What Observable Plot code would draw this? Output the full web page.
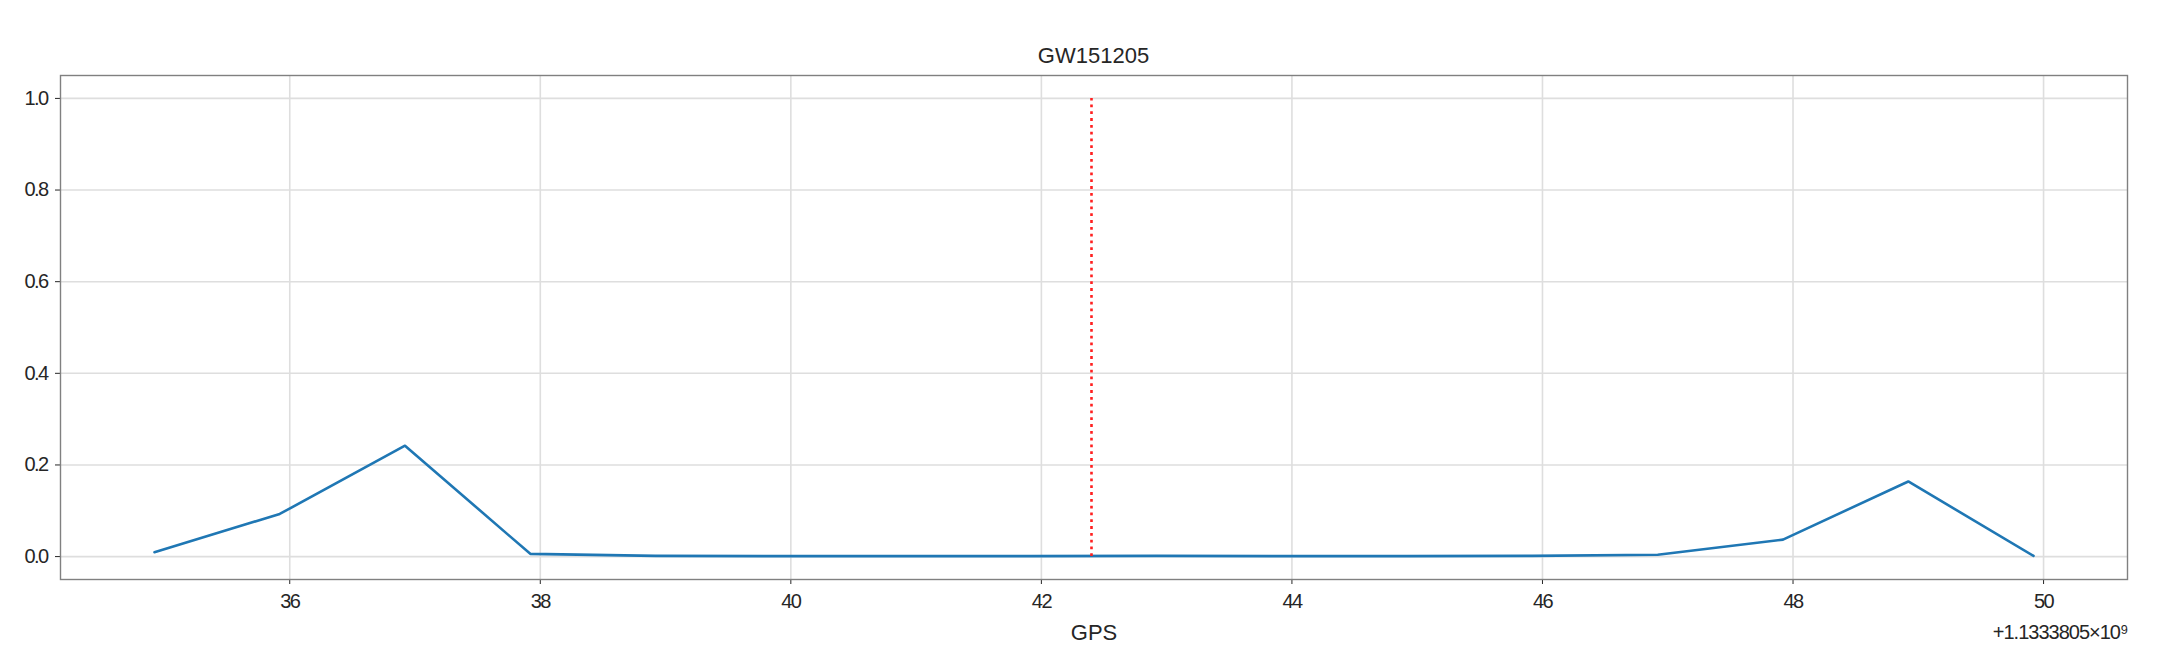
<!DOCTYPE html>
<html><head><meta charset="utf-8">
<script src="https://cdn.jsdelivr.net/npm/d3@7"></script>
<script src="https://cdn.jsdelivr.net/npm/@observablehq/plot@0.6"></script>
<style>
html,body{margin:0;padding:0;background:#fff;overflow:hidden}
#title{width:2166px;height:66px;box-sizing:border-box;padding:45px 39px 0 60px;line-height:22px;font-size:22px;font-family:"Liberation Sans",Arial,sans-serif;color:#262626;text-align:center}
#chart g[aria-label="x-axis tick label"] text,
#chart g[aria-label="y-axis tick label"] text{letter-spacing:-1.6px}
#chart g.offset text{letter-spacing:-1px}
</style></head><body>
<div id="title"></div>
<div id="chart"></div>
<script>
const title = "GW151205";
const xLabel = "GPS";
const offsetLabel = "+1.1333805×10⁹";
// GPS time minus 1133380500 s
const times = [34.92, 35.92, 36.92, 37.92, 38.92, 39.92, 40.92, 41.92, 42.92, 43.92, 44.92, 45.92, 46.92, 47.92, 48.92, 49.92];
const values = [0.0095, 0.093, 0.242, 0.006, 0.0015, 0.001, 0.001, 0.001, 0.0015, 0.001, 0.001, 0.0015, 0.004, 0.037, 0.164, 0.0015];
const eventTime = [42.40];
const xTicks = [36, 38, 40, 42, 44, 46, 48, 50];
const yTicks = [0.0, 0.2, 0.4, 0.6, 0.8, 1.0];

document.getElementById("title").textContent = title;

const data = times.map((t, i) => ({t, v: values[i]}));
const xMin = d3.min(times), xMax = d3.max(times);
const xPad = (xMax - xMin) * 0.05;
const yPad = (1 - 0) * 0.05;

const font = '"Liberation Sans", Arial, sans-serif';

const chart = Plot.plot({
  width: 2166,
  height: 592,
  marginTop: 9,
  marginBottom: 79,
  marginLeft: 60,
  marginRight: 39,
  style: {fontFamily: font, fontSize: "20px", color: "#262626", background: "white"},
  x: {domain: [xMin - xPad, xMax + xPad], label: null},
  y: {domain: [0 - yPad, 1 + yPad], label: null},
  marks: [
    Plot.gridX(xTicks, {stroke: "#dedede", strokeOpacity: 1, strokeWidth: 1.6}),
    Plot.gridY(yTicks, {stroke: "#dedede", strokeOpacity: 1, strokeWidth: 1.6}),
    Plot.axisX(xTicks, {tickSize: 5, tickPadding: 9, fontSize: 20, label: null, tickFormat: d => String(d)}),
    Plot.axisY(yTicks, {tickSize: 5, tickPadding: 8, fontSize: 20, label: null, tickFormat: d3.format(".1f")}),
    Plot.line(data, {x: "t", y: "v", stroke: "#1f77b4", strokeWidth: 2.6}),
    Plot.ruleX(eventTime, {x: d => d, y1: 0, y2: 1, stroke: "#ff2020", strokeWidth: 2.6, strokeDasharray: "2.8,4"}),
    Plot.frame({stroke: "#808080", strokeWidth: 1.4}),
    Plot.text([xLabel], {text: d => d, frameAnchor: "bottom", dy: 53, lineAnchor: "middle", fontSize: 22}),
    Plot.text([offsetLabel], {text: d => d, frameAnchor: "bottom-right", textAnchor: "end", dy: 53, lineAnchor: "middle", fontSize: 20, className: "offset"})
  ]
});
document.getElementById("chart").appendChild(chart);
</script>
</body></html>
